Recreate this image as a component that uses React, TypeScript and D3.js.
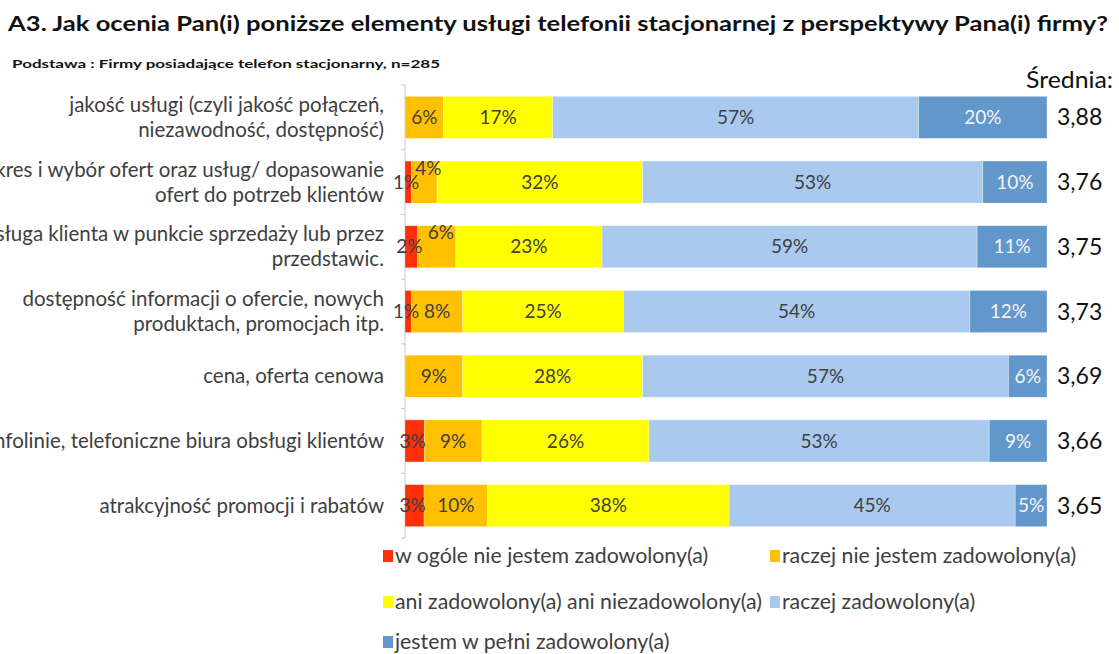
import * as d3 from "d3";
import React, { useEffect, useRef } from "react";

// categories (top to bottom)
const categories = [
  ["jakość usługi (czyli jakość połączeń,", "niezawodność, dostępność)"],
  ["Zakres i wybór ofert oraz usług/ dopasowanie", "ofert do potrzeb klientów"],
  ["Obsługa klienta w punkcie sprzedaży lub przez", "przedstawic."],
  ["dostępność informacji o ofercie, nowych", "produktach, promocjach itp."],
  ["cena, oferta cenowa"],
  ["Infolinie, telefoniczne biura obsługi klientów"],
  ["atrakcyjność promocji i rabatów"],
];

const seriesNames = [
  "w ogóle nie jestem zadowolony(a)",
  "raczej nie jestem zadowolony(a)",
  "ani zadowolony(a) ani niezadowolony(a)",
  "raczej zadowolony(a)",
  "jestem w pełni zadowolony(a)",
];

const notSatisfied = [0, 1, 2, 1, 0, 3, 3];
const ratherNot = [6, 4, 6, 8, 9, 9, 10];
const neutral = [17, 32, 23, 25, 28, 26, 38];
const ratherSatisfied = [57, 53, 59, 54, 57, 53, 45];
const fullySatisfied = [20, 10, 11, 12, 6, 9, 5];

const means = ["3,88", "3,76", "3,75", "3,73", "3,69", "3,66", "3,65"];

const colors = ["#ff2f0a", "#ffc000", "#ffff00", "#a9caee", "#6197cb"];

export default function App() {
  const ref = useRef<SVGSVGElement>(null);

  useEffect(() => {
    const svg = d3.select(ref.current);
    svg.selectAll("*").remove();

    const font = "Lato, 'Open Sans', sans-serif";
    const left = 405;
    const right = 1047;

    const rows = categories.map((c, i) => ({
      i,
      v: [notSatisfied[i], ratherNot[i], neutral[i], ratherSatisfied[i], fullySatisfied[i]],
    }));

    const stack = d3
      .stack<any>()
      .keys([0, 1, 2, 3, 4] as any)
      .value((d: any, k: any) => d.v[k])
      .offset(d3.stackOffsetExpand);
    const layers = stack(rows);

    const x = d3.scaleLinear().domain([0, 1]).range([left, right]);
    const y = d3
      .scaleBand<number>()
      .domain(rows.map((r) => r.i))
      .range([85, 538])
      .paddingInner(0.35)
      .paddingOuter(0.175);

    // title
    svg.append("text")
      .attr("x", 8)
      .attr("y", 31)
      .attr("font-family", font)
      .attr("font-weight", "bold")
      .attr("font-size", 20)
      .attr("fill", "#111")
      .attr("textLength", 1100)
      .attr("lengthAdjust", "spacingAndGlyphs")
      .text("A3. Jak ocenia Pan(i) poniższe elementy usługi telefonii stacjonarnej z perspektywy Pana(i) firmy?");

    svg.append("text")
      .attr("x", 12)
      .attr("y", 68)
      .attr("font-family", font)
      .attr("font-weight", "bold")
      .attr("font-size", 12)
      .attr("fill", "#111")
      .attr("textLength", 428)
      .attr("lengthAdjust", "spacingAndGlyphs")
      .text("Podstawa : Firmy posiadające telefon stacjonarny, n=285");

    // axis line with ticks at band boundaries
    const step = y.step();
    const y0 = y.range()[0];
    const ticks = d3.range(categories.length + 1).map((k) => y0 + k * step);
    svg.append("line")
      .attr("x1", left).attr("x2", left)
      .attr("y1", ticks[0]).attr("y2", ticks[ticks.length - 1])
      .attr("stroke", "#c8c8c8");
    svg.selectAll(".tick")
      .data(ticks)
      .enter()
      .append("line")
      .attr("x1", left - 4).attr("x2", left)
      .attr("y1", (d) => d).attr("y2", (d) => d)
      .attr("stroke", "#c8c8c8");

    // bars
    layers.forEach((layer, s) => {
      svg.append("g")
        .selectAll("rect")
        .data(layer)
        .enter()
        .append("rect")
        .attr("x", (d) => x(d[0]))
        .attr("y", (d: any) => y(d.data.i)!)
        .attr("width", (d) => x(d[1]) - x(d[0]))
        .attr("height", y.bandwidth())
        .attr("fill", colors[s])
        .attr("stroke", "#ffffff")
        .attr("stroke-opacity", 0.5)
        .attr("stroke-width", 0.6);
    });

    // value labels
    layers.forEach((layer, s) => {
      layer.forEach((d: any) => {
        const val = d.data.v[s];
        if (!val) return;
        const cx = (x(d[0]) + x(d[1])) / 2;
        let cy = y(d.data.i)! + y.bandwidth() / 2;
        let lx = cx;
        // small segments next to a labelled red one get pushed up
        if (s === 1 && d.data.v[0] > 0 && val < 7) {
          cy -= 14;
          lx += 4;
        }
        if (s === 0) lx -= 2;
        svg.append("text")
          .attr("x", lx)
          .attr("y", cy)
          .attr("dy", "0.35em")
          .attr("text-anchor", "middle")
          .attr("font-family", font)
          .attr("font-size", 19)
          .attr("fill", s === 4 ? "#f4f4f4" : "#404040")
          .text(val + "%");
      });
    });

    // category labels (long ones run off the left edge, as in the source image)
    categories.forEach((lines, i) => {
      const cy = y(i)! + y.bandwidth() / 2;
      const start = cy - ((lines.length - 1) * 25) / 2;
      const t = svg.append("text")
        .attr("text-anchor", "end")
        .attr("font-family", font)
        .attr("font-size", 20.5)
        .attr("fill", "#404040");
      lines.forEach((l, k) => {
        t.append("tspan")
          .attr("x", 384)
          .attr("y", start + k * 25)
          .attr("dy", "0.35em")
          .text(l);
      });
    });

    // means
    svg.append("text")
      .attr("x", 1026)
      .attr("y", 88)
      .attr("font-family", font)
      .attr("font-size", 24)
      .attr("fill", "#111")
      .attr("textLength", 87)
      .attr("lengthAdjust", "spacingAndGlyphs")
      .text("Średnia:");
    means.forEach((m, i) => {
      svg.append("text")
        .attr("x", 1057)
        .attr("y", y(i)! + y.bandwidth() / 2)
        .attr("dy", "0.35em")
        .attr("font-family", font)
        .attr("font-size", 23)
        .attr("fill", "#111")
        .text(m);
    });

    // legend
    const legendPos = [
      [383, 556],
      [770, 556],
      [383, 602],
      [770, 602],
      [383, 642],
    ];
    seriesNames.forEach((name, s) => {
      const [lx, ly] = legendPos[s];
      svg.append("rect")
        .attr("x", lx)
        .attr("y", ly - 6)
        .attr("width", 10)
        .attr("height", 12)
        .attr("fill", colors[s]);
      svg.append("text")
        .attr("x", lx + 12)
        .attr("y", ly)
        .attr("dy", "0.35em")
        .attr("font-family", font)
        .attr("font-size", 21.3)
        .attr("fill", "#404040")
        .text(name);
    });
  }, []);

  return (
    <svg
      ref={ref}
      width={1119}
      height={654}
      style={{ position: "absolute", left: 0, top: 0, background: "#fff" }}
    />
  );
}
